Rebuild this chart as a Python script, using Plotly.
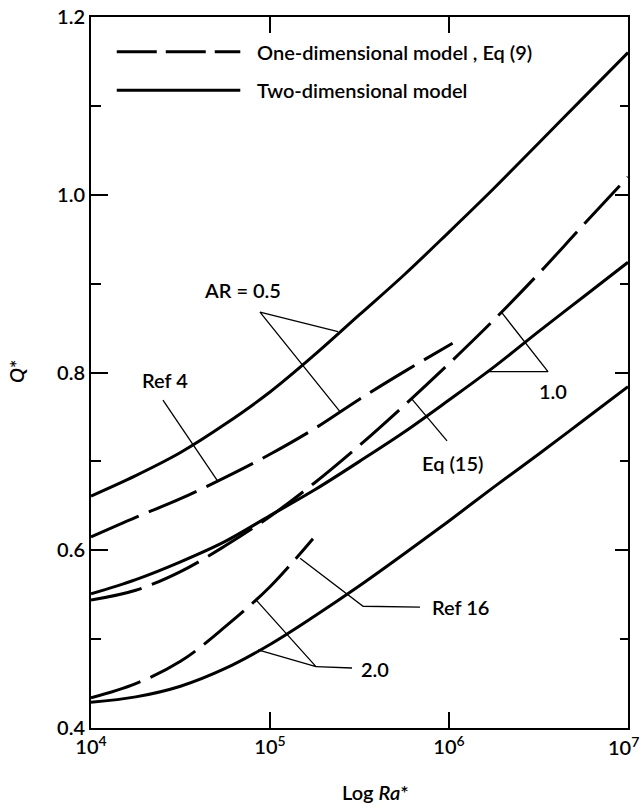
import numpy as np
import plotly.graph_objects as go

# Rayleigh number exponents (Ra* = 10**LOG_RA)
LOG_RA = [4.0, 4.25, 4.5, 4.75, 5.0, 5.25, 5.5, 5.75, 6.0, 6.25, 6.5, 6.75, 7.0]

# Two-dimensional model, Q* for each aspect ratio
Q_2D_AR05 = [0.661, 0.684, 0.710, 0.742, 0.778, 0.820, 0.865, 0.910, 0.958, 1.007, 1.058, 1.109, 1.160]
Q_2D_AR10 = [0.551, 0.567, 0.587, 0.610, 0.639, 0.668, 0.700, 0.733, 0.769, 0.806, 0.846, 0.885, 0.924]
Q_2D_AR20 = [0.429, 0.435, 0.447, 0.467, 0.494, 0.526, 0.560, 0.596, 0.633, 0.671, 0.708, 0.746, 0.784]

# One-dimensional model, Eq (9)
LOG_RA_1D_AR05 = [4.0, 4.25, 4.5, 4.75, 5.0, 5.25, 5.5, 5.75, 6.02]
Q_1D_AR05 = [0.615, 0.637, 0.658, 0.682, 0.708, 0.737, 0.770, 0.801, 0.833]
LOG_RA_1D_AR10 = LOG_RA
Q_1D_AR10 = [0.544, 0.555, 0.576, 0.605, 0.638, 0.676, 0.718, 0.763, 0.810, 0.859, 0.911, 0.966, 1.020]
LOG_RA_1D_AR20 = [4.0, 4.25, 4.5, 4.75, 5.0, 5.24]
Q_1D_AR20 = [0.434, 0.450, 0.475, 0.514, 0.559, 0.613]

X_TICK_EXP = [4, 5, 6, 7]
X_TICK_TEXT = ["10<sup>4</sup>", "10<sup>5</sup>", "10<sup>6</sup>", "10<sup>7</sup>"]

FONT = "Lato"
WEIGHT = 600
BLACK = "black"
CURVE_W = 3
DASH = "52px,11px"
TXT = dict(family=FONT, size=20, color=BLACK, weight=WEIGHT)


def ra(exps):
    return [10 ** e for e in exps]


fig = go.Figure()

solid_sets = [Q_2D_AR05, Q_2D_AR10, Q_2D_AR20]
for q in solid_sets:
    fig.add_trace(go.Scatter(x=ra(LOG_RA), y=q, mode="lines", line_shape="spline",
                             line=dict(color=BLACK, width=CURVE_W), showlegend=False,
                             hoverinfo="skip"))

dashed_sets = [(LOG_RA_1D_AR05, Q_1D_AR05), (LOG_RA_1D_AR10, Q_1D_AR10),
               (LOG_RA_1D_AR20, Q_1D_AR20)]
for xs, q in dashed_sets:
    fig.add_trace(go.Scatter(x=ra(xs), y=q, mode="lines", line_shape="spline",
                             line=dict(color=BLACK, width=CURVE_W, dash=DASH),
                             showlegend=False, hoverinfo="skip"))

# Leader lines pointing labels to curves, in (log Ra*, Q*)
leaders = [
    [(5.380, 0.846), (4.944, 0.868), (5.391, 0.756)],          # AR = 0.5
    [(4.402, 0.769), (4.704, 0.679)],                           # Ref 4
    [(6.296, 0.867), (6.553, 0.801), (6.212, 0.801)],           # 1.0
    [(5.989, 0.723), (5.793, 0.770)],                           # Eq (15)
    [(5.168, 0.591), (5.520, 0.537), (5.838, 0.536)],           # Ref 16
    [(4.927, 0.543), (5.257, 0.469), (4.933, 0.488)],           # 2.0
    [(5.257, 0.469), (5.458, 0.4675)],
]
for pts in leaders:
    fig.add_trace(go.Scatter(x=[10 ** p[0] for p in pts], y=[p[1] for p in pts],
                             mode="lines", line=dict(color=BLACK, width=1.3),
                             showlegend=False, hoverinfo="skip"))

# invisible trace so the right-hand axis is drawn
fig.add_trace(go.Scatter(x=[1e4], y=[0.4], yaxis="y2", mode="markers",
                         marker=dict(opacity=0), showlegend=False, hoverinfo="skip"))

labels = [
    ("AR = 0.5", 4.849, 0.893, "center"),
    ("Ref 4", 4.413, 0.792, "center"),
    ("1.0", 6.581, 0.779, "center"),
    ("Eq (15)", 6.022, 0.698, "center"),
    ("Ref 16", 5.894, 0.536, "left"),
    ("2.0", 5.497, 0.466, "left"),
]
for text, lx, ly, anchor in labels:
    fig.add_annotation(x=lx, y=ly, xref="x", yref="y", text=text, showarrow=False,
                       xanchor=anchor, yanchor="middle", font=TXT)

# Legend drawn by hand
fig.add_shape(type="line", xref="paper", yref="paper", x0=0.048, x1=0.278,
              y0=0.951, y1=0.951, line=dict(color=BLACK, width=CURVE_W, dash="40px,9px"))
fig.add_shape(type="line", xref="paper", yref="paper", x0=0.048, x1=0.278,
              y0=0.897, y1=0.897, line=dict(color=BLACK, width=CURVE_W))
fig.add_annotation(xref="paper", yref="paper", x=0.305, y=0.951, text="One-dimensional model , Eq (9)",
                   showarrow=False, xanchor="left", yanchor="middle", font=TXT)
fig.add_annotation(xref="paper", yref="paper", x=0.305, y=0.897, text="Two-dimensional model",
                   showarrow=False, xanchor="left", yanchor="middle", font=TXT)

# Last x tick label, kept right-aligned inside the page edge
fig.add_annotation(xref="paper", yref="paper", x=1.0235, y=-0.0255, text=X_TICK_TEXT[-1],
                   showarrow=False, xanchor="right", yanchor="middle", font=TXT)

# Axis titles
fig.add_annotation(xref="paper", yref="paper", x=0.53, y=-0.09, text="Log <i>Ra</i>*",
                   showarrow=False, xanchor="center", yanchor="middle", font=TXT)
fig.add_annotation(xref="paper", yref="paper", x=-0.14, y=0.502, text="<i>Q</i>*",
                   showarrow=False, textangle=-90, xanchor="center", yanchor="middle",
                   font=TXT)

fig.update_layout(
    width=642, height=808,
    margin=dict(l=91, r=14, t=17, b=80, autoexpand=False),
    plot_bgcolor="white", paper_bgcolor="white",
    showlegend=False,
    font=TXT,
    xaxis=dict(type="log", range=[4, 7], showgrid=False, zeroline=False,
               showline=True, linecolor=BLACK, linewidth=2, mirror="ticks",
               ticks="inside", ticklen=16, tickwidth=1.5, tickcolor=BLACK,
               tickvals=ra(X_TICK_EXP[:-1]), ticktext=X_TICK_TEXT[:-1], automargin=False,
               ticklabeloverflow="allow", tickfont=TXT),
    yaxis=dict(range=[0.4, 1.2], showgrid=False, zeroline=False,
               showline=True, linecolor=BLACK, linewidth=2, automargin=False,
               ticks="inside", ticklen=17, tickwidth=1.5, tickcolor=BLACK,
               dtick=0.2, tick0=0.4, tickformat=".1f", tickfont=TXT,
               minor=dict(dtick=0.1, tick0=0.4, ticks="inside", ticklen=10,
                          tickwidth=1.5, tickcolor=BLACK, showgrid=False)),
    yaxis2=dict(range=[0.4, 1.2], overlaying="y", side="right", showgrid=False,
                zeroline=False, showline=True, linecolor=BLACK, linewidth=2,
                automargin=False,
                ticks="inside", ticklen=13, tickwidth=1.5, tickcolor=BLACK,
                dtick=0.2, tick0=0.4, showticklabels=False,
                minor=dict(dtick=0.1, tick0=0.4, ticks="inside", ticklen=8,
                           tickwidth=1.5, tickcolor=BLACK, showgrid=False)),
)

fig.write_html("out.html")
